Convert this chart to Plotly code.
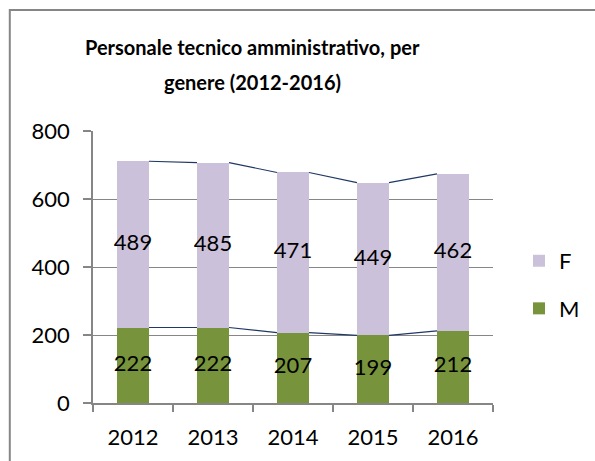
import plotly.graph_objects as go

years = ["2012", "2013", "2014", "2015", "2016"]
male = [222, 222, 207, 199, 212]
female = [489, 485, 471, 449, 462]
title_lines = ["Personale tecnico amministrativo, per", "genere (2012-2016)"]

x = list(range(len(years)))
bw = 0.4
font = "Lato, Open Sans, DejaVu Sans, sans-serif"

fig = go.Figure()
fig.add_trace(go.Bar(x=x, y=male, name="M", marker=dict(color="#77933C", line=dict(width=0)),
                     width=bw, textposition="none", legendrank=2, legendgroup="m"))
fig.add_trace(go.Bar(x=x, y=female, name="F", marker=dict(color="#CCC1DA", line=dict(width=0)),
                     width=bw, textposition="none", legendrank=1, legendgroup="f"))

# data labels at segment centres
mid_m = [m / 2 for m in male]
mid_f = [m + f / 2 for m, f in zip(male, female)]
fig.add_trace(go.Scatter(x=x + x, y=mid_m + mid_f, mode="text",
                         text=[str(v) for v in male + female], textposition="middle center",
                         textfont=dict(color="black", size=22, family=font),
                         showlegend=False, hoverinfo="skip"))

# series lines between bars
shapes = []
tops_m = male
tops_f = [m + f for m, f in zip(male, female)]
for tops in (tops_m, tops_f):
    for i in range(len(x) - 1):
        shapes.append(dict(type="line", xref="x", yref="y",
                           x0=x[i] + bw / 2, y0=tops[i], x1=x[i + 1] - bw / 2, y1=tops[i + 1],
                           line=dict(color="#1F3864", width=1.2), layer="above"))
# chart border (plot area: x 93..493 px, y 131..403 px)
shapes.append(dict(type="rect", xref="paper", yref="paper", x0=-0.208, y0=-0.3, x1=1.4, y1=1.445,
                   line=dict(color="#868686", width=2), fillcolor="rgba(0,0,0,0)"))

annotations = [
    dict(text="<b>%s</b>" % title_lines[0], xref="paper", yref="paper", x=(252 - 93) / 400, y=1.309,
         xanchor="center", yanchor="middle", showarrow=False, font=dict(size=20, family=font, color="black")),
    dict(text="<b>%s</b>" % title_lines[1], xref="paper", yref="paper", x=(252 - 93) / 400, y=1.180,
         xanchor="center", yanchor="middle", showarrow=False, font=dict(size=20, family=font, color="black")),
]

fig.update_layout(
    barmode="stack",
    width=595, height=461,
    margin=dict(l=93, r=102, t=131, b=58, autoexpand=False),
    paper_bgcolor="white", plot_bgcolor="white",
    font=dict(family=font, color="black"),
    legend=dict(x=1.065, y=0.434, xanchor="left", yanchor="middle", traceorder="grouped",
                font=dict(size=22, family=font), itemwidth=30, tracegroupgap=16,
                bgcolor="rgba(0,0,0,0)"),
    shapes=shapes,
    annotations=annotations,
    showlegend=True,
)
fig.update_xaxes(tickmode="array", tickvals=x, ticktext=years, range=[-0.5, 4.5],
                 showline=True, linecolor="#868686", linewidth=1.5,
                 ticks="", tickfont=dict(size=22, family=font), showgrid=False,
                 ticklabelstandoff=14)
fig.update_xaxes(minor=dict(tickmode="array", tickvals=[-0.5, 0.5, 1.5, 2.5, 3.5, 4.5], ticks="outside",
                            ticklen=7, tickcolor="#868686", tickwidth=1.5, showgrid=False))
fig.update_yaxes(range=[0, 800], tickvals=[0, 200, 400, 600, 800], showgrid=True,
                 gridcolor="#868686", gridwidth=1.2, showline=True, linecolor="#868686", linewidth=1.5,
                 ticks="outside", ticklen=8, tickcolor="#868686", tickwidth=1.5,
                 tickfont=dict(size=22, family=font), zeroline=False, ticklabelstandoff=9)

fig.write_html("out.html")
